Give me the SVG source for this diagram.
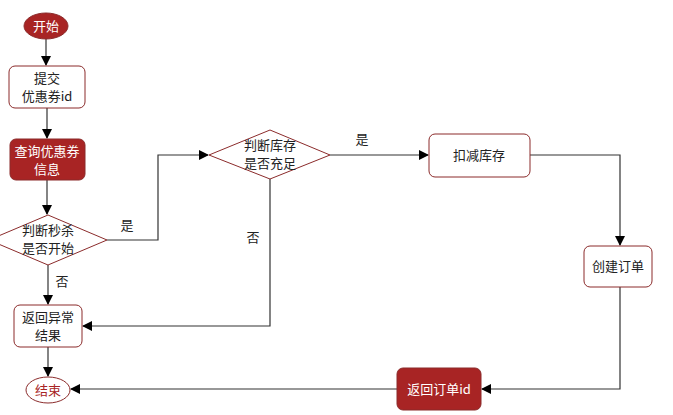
<svg xmlns="http://www.w3.org/2000/svg" width="673" height="415" viewBox="0 0 673 415">
<defs><marker id="a" markerWidth="10" markerHeight="10" refX="9" refY="5" orient="auto" markerUnits="userSpaceOnUse"><path d="M0,0 L10,5 L0,10 z" fill="#000"/></marker></defs>
<style>
text{font-family:"Noto Sans CJK SC","Liberation Sans",sans-serif;font-size:13px;text-anchor:middle;fill:#222}
.w{fill:#fff;stroke:#8b2b2b;stroke-width:1}
.r{fill:#a82424;stroke:#8b2b2b}
.rt{fill:#fff}
.c{fill:none;stroke:#333;stroke-width:1.2;marker-end:url(#a)}
</style>
<rect width="673" height="415" fill="#fff"/>
<g id="connectors">
<path class="c" d="M46,39 V65"/>
<path class="c" d="M47,108 V138"/>
<path class="c" d="M47,180 V214"/>
<path class="c" d="M107,240 H158 V155 H208"/>
<path class="c" d="M48,265 V304"/>
<path class="c" d="M270,179 V326 H83"/>
<path class="c" d="M330,155 H428"/>
<path class="c" d="M530,155 H620 V245"/>
<path class="c" d="M620,287 V389 H482"/>
<path class="c" d="M397,389 H71"/>
<path class="c" d="M48,347 V376"/>
<text x="127" y="230">是</text><text x="62" y="286">否</text>
<text x="253" y="242">否</text><text x="362" y="144">是</text>
</g>
<g id="start"><ellipse class="r" cx="46" cy="26" rx="22" ry="13"/><text class="rt" x="46" y="31">开始</text></g>
<g id="submit"><rect class="w" x="9" y="66" width="76" height="42" rx="6"/><text x="47" y="83">提交</text><text x="47" y="101">优惠券id</text></g>
<g id="query"><rect class="r" x="10" y="139" width="75" height="41" rx="6"/><text class="rt" x="47" y="156">查询优惠券</text><text class="rt" x="47" y="174">信息</text></g>
<g id="d1"><path class="w" d="M48,215 L107,240 L48,265 L-11,240 z"/><text x="48" y="235">判断秒杀</text><text x="48" y="253">是否开始</text></g>
<g id="err"><rect class="w" x="14" y="305" width="68" height="42" rx="6"/><text x="48" y="322">返回异常</text><text x="48" y="340">结果</text></g>
<g id="end"><ellipse class="w" cx="48" cy="390" rx="22" ry="13" stroke-width="2"/><text x="48" y="395" style="fill:#a82424">结束</text></g>
<g id="d2"><path class="w" d="M270,130 L330,155 L270,179 L209,155 z"/><text x="270" y="150">判断库存</text><text x="270" y="168">是否充足</text></g>
<g id="deduct"><rect class="w" x="429" y="134" width="101" height="43" rx="6"/><text x="479" y="160">扣减库存</text></g>
<g id="create"><rect class="w" x="584" y="246" width="68" height="41" rx="6"/><text x="618" y="271">创建订单</text></g>
<g id="ret"><rect class="r" x="397" y="368" width="84" height="42" rx="6"/><text class="rt" x="439" y="394">返回订单id</text></g>
</svg>
